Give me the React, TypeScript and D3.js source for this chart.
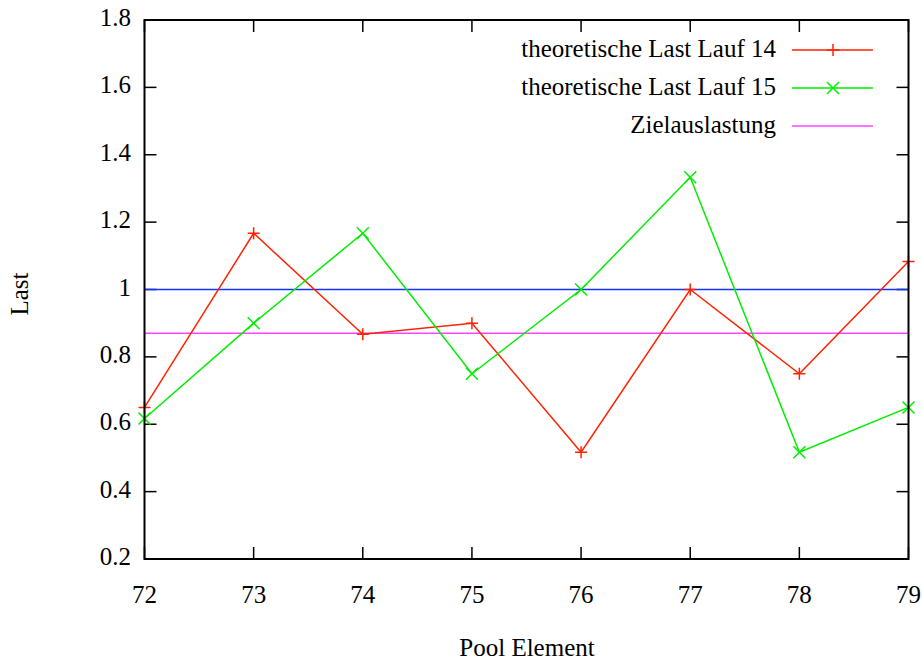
import React from "react";
import * as d3 from "d3";

const poolElements = [72, 73, 74, 75, 76, 77, 78, 79];
const lauf14 = [0.65, 1.167, 0.867, 0.9, 0.517, 1.0, 0.75, 1.083];
const lauf15 = [0.617, 0.9, 1.167, 0.75, 1.0, 1.333, 0.517, 0.65];
const zielauslastung = 0.87;
const referenceLine = 1.0;
const yTicks = [0.2, 0.4, 0.6, 0.8, 1.0, 1.2, 1.4, 1.6, 1.8];
const legendLabels = ["theoretische Last Lauf 14", "theoretische Last Lauf 15", "Zielauslastung"];

const W = 922, H = 660;
const L = 144.5, R = 908.5, T = 20, B = 559;
const FONT = "'Liberation Serif', 'DejaVu Serif', serif";
const FS = 25;

export default function App() {
  const x = d3.scaleLinear().domain([72, 79]).range([L, R]);
  const y = d3.scaleLinear().domain([0.2, 1.8]).range([B, T]);
  const line = d3.line<number>().x((_, i) => x(poolElements[i])).y((d) => y(d));
  const tick = 12;
  const m = 6;
  const plus = (cx: number, cy: number, c: string, k: string) => (
    <path key={k} d={`M${cx - m},${cy}H${cx + m}M${cx},${cy - m}V${cy + m}`} stroke={c} strokeWidth={1.5} />
  );
  const cross = (cx: number, cy: number, c: string, k: string) => (
    <path key={k} d={`M${cx - m},${cy - m}L${cx + m},${cy + m}M${cx - m},${cy + m}L${cx + m},${cy - m}`} stroke={c} strokeWidth={1.5} />
  );
  const red = "#ff2200";
  const green = "#00ee00";
  const blue = "#1133ff";
  const magenta = "#ff44ff";
  const legendY = [50, 88, 126];
  return (
    <svg width={W} height={H} style={{ position: "absolute", left: 0, top: 0, background: "#fff" }} fontFamily={FONT}>
      <rect x={0} y={0} width={W} height={H} fill="#fff" />
      {yTicks.map((t, i) => (
        <g key={"y" + i}>
          <line x1={L} x2={L + tick} y1={y(t)} y2={y(t)} stroke="#000" strokeWidth={1.5} />
          <line x1={R} x2={R - tick} y1={y(t)} y2={y(t)} stroke="#000" strokeWidth={1.5} />
          <text x={131} y={y(t) + 6} fontSize={FS} textAnchor="end">{t === 1 ? "1" : t.toFixed(1)}</text>
        </g>
      ))}
      {poolElements.map((p, i) => (
        <g key={"x" + i}>
          <line x1={x(p)} x2={x(p)} y1={B} y2={B - tick} stroke="#000" strokeWidth={1.5} />
          <line x1={x(p)} x2={x(p)} y1={T} y2={T + tick} stroke="#000" strokeWidth={1.5} />
          <text x={x(p)} y={603} fontSize={FS} textAnchor="middle">{p}</text>
        </g>
      ))}
      <text transform="translate(28,294) rotate(-90)" fontSize={FS} textAnchor="middle">Last</text>
      <text x={527} y={656} fontSize={FS} textAnchor="middle">Pool Element</text>
      <line x1={L} x2={R} y1={y(referenceLine)} y2={y(referenceLine)} stroke={blue} strokeWidth={1.5} />
      <line x1={L} x2={R} y1={y(zielauslastung)} y2={y(zielauslastung)} stroke={magenta} strokeWidth={1.5} />
      <path d={line(lauf14) || ""} fill="none" stroke={red} strokeWidth={1.5} />
      {lauf14.map((v, i) => plus(x(poolElements[i]), y(v), red, "p" + i))}
      <path d={line(lauf15) || ""} fill="none" stroke={green} strokeWidth={1.5} />
      {lauf15.map((v, i) => cross(x(poolElements[i]), y(v), green, "c" + i))}
      {legendLabels.map((lab, i) => (
        <text key={"l" + i} x={776} y={legendY[i] + 7} fontSize={FS} textAnchor="end">{lab}</text>
      ))}
      <line x1={792} x2={873} y1={legendY[0]} y2={legendY[0]} stroke={red} strokeWidth={1.5} />
      {plus(833, legendY[0], red, "lp")}
      <line x1={792} x2={873} y1={legendY[1]} y2={legendY[1]} stroke={green} strokeWidth={1.5} />
      {cross(833, legendY[1], green, "lc")}
      <line x1={792} x2={873} y1={legendY[2]} y2={legendY[2]} stroke={magenta} strokeWidth={1.5} />
      <rect x={L} y={T} width={R - L} height={B - T} fill="none" stroke="#000" strokeWidth={2} />
    </svg>
  );
}
